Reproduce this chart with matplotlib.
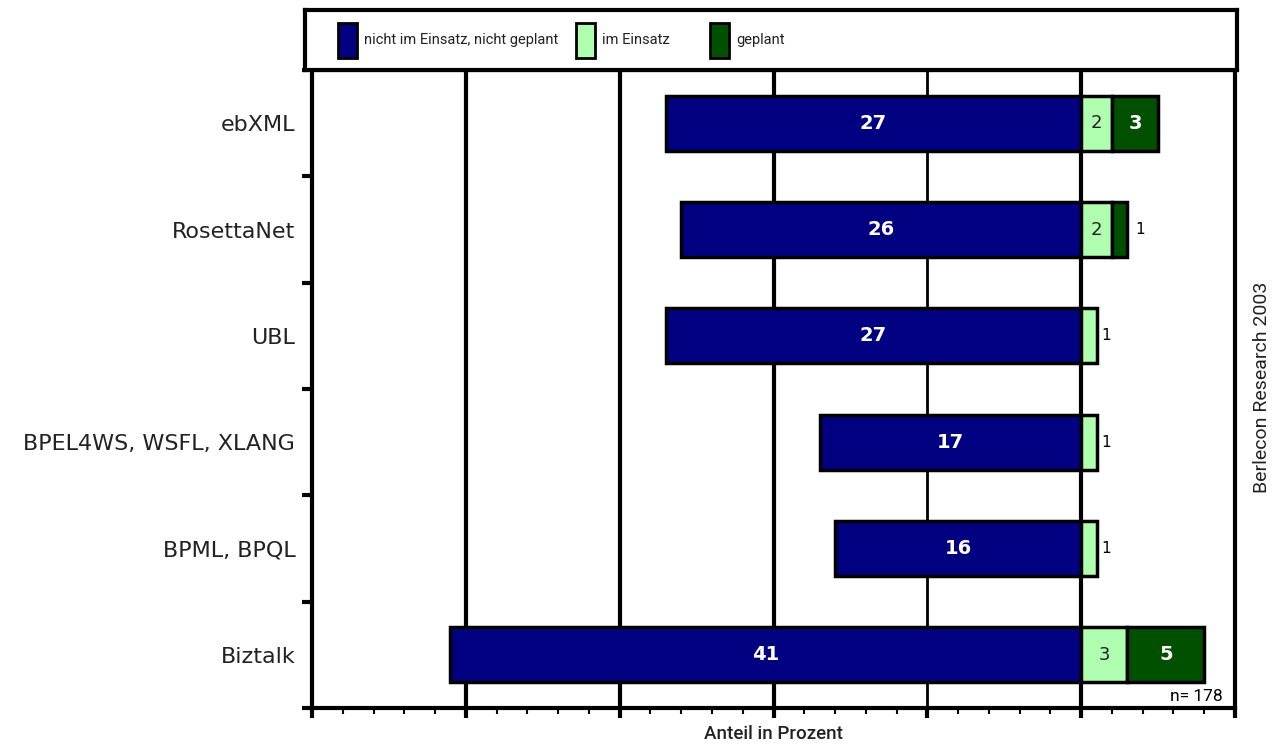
#!/usr/bin/env python3
import matplotlib.pyplot as plt
from matplotlib.patches import Rectangle

# Data (share in percent, n=178)
categories = ["ebXML", "RosettaNet", "UBL", "BPEL4WS, WSFL, XLANG", "BPML, BPQL", "Biztalk"]
not_used = [27, 26, 27, 17, 16, 41]   # nicht im Einsatz, nicht geplant
in_use = [2, 2, 1, 1, 1, 3]           # im Einsatz
planned = [3, 1, 0, 0, 0, 5]          # geplant

legend_labels = ["nicht im Einsatz, nicht geplant", "im Einsatz", "geplant"]
colors = ["#000080", "#b0ffb0", "#005000"]

narrow = ["Roboto", "DejaVu Sans"]

fig = plt.figure(figsize=(12.81, 7.47), dpi=100)
W, H = 1281, 747
ax = fig.add_axes([312 / W, 1 - 708 / H, (1235 - 312) / W, (708 - 70) / H])

# gridlines
for gx in [-40, -30, -20, -10, 0]:
    ax.axvline(gx, color="black", lw=2 if gx == -10 else 3, zorder=1)

ypos = list(range(len(categories)))
h = 0.52
ax.barh(ypos, not_used, left=[-v for v in not_used], height=h, color=colors[0],
        edgecolor="black", lw=2.5, zorder=3)
ax.barh(ypos, in_use, left=0, height=h, color=colors[1],
        edgecolor="black", lw=2.5, zorder=3)
for y, b, c in zip(ypos, in_use, planned):
    if c > 0:
        ax.barh(y, c, left=b, height=h, color=colors[2],
                edgecolor="black", lw=2.5, zorder=3)

# value labels
for y, a, b, c in zip(ypos, not_used, in_use, planned):
    ax.text(-a / 2, y, str(a), color="white", ha="center", va="center",
            fontsize=14, fontweight="bold", zorder=5)
    if c > 0:
        ax.text(b / 2, y, str(b), color="#222222", ha="center", va="center",
                fontsize=13, zorder=5)
        if c >= 2:
            ax.text(b + c / 2, y, str(c), color="white", ha="center", va="center",
                    fontsize=14, fontweight="bold", zorder=5)
        else:
            ax.text(b + c + 0.5, y, str(c), color="black", ha="left", va="center",
                    fontsize=11, zorder=5)
    else:
        ax.text(b + 0.3, y, str(b), color="black", ha="left", va="center",
                fontsize=11, zorder=5)

ax.set_xlim(-50, 10)
ax.set_ylim(len(categories) - 0.5, -0.5)

ax.set_xticks(range(-50, 11, 10))
ax.set_xticks(range(-50, 11, 2), minor=True)
ax.set_xticklabels([])
ax.tick_params(axis="x", which="major", length=7, width=3, direction="out")
ax.tick_params(axis="x", which="minor", length=4, width=1.5, direction="out")

ax.set_yticks(ypos)
ax.set_yticklabels(categories, fontsize=16, color="#222222")
ax.set_yticks([i - 0.5 for i in range(len(categories) + 1)], minor=True)
ax.tick_params(axis="y", which="major", length=0, pad=12)
ax.tick_params(axis="y", which="minor", length=7, width=3, direction="out")

for s in ax.spines.values():
    s.set_linewidth(3)

ax.set_xlabel("Anteil in Prozent", fontsize=13.5, family=narrow, labelpad=2,
              color="#222222", fontweight="medium")
ax.text(0.987, 0.006, "n= 178", transform=ax.transAxes, ha="right", va="bottom",
        fontsize=12.5, family=narrow)

fig.text(1262 / W, 1 - 387 / H, "Berlecon Research 2003", rotation=90,
         ha="center", va="center", fontsize=14, family=narrow, color="#222222")

# legend box
lax = fig.add_axes([305 / W, 1 - 70 / H, (1237 - 305) / W, 60 / H])
lax.set_xlim(0, 1)
lax.set_ylim(0, 1)
lax.set_xticks([])
lax.set_yticks([])
for s in lax.spines.values():
    s.set_linewidth(3)
leg_x = [(338 - 305) / 932, (576 - 305) / 932, (710 - 305) / 932]
for lx, lab, col in zip(leg_x, legend_labels, colors):
    lax.add_patch(Rectangle((lx, 0.2), 19 / 932, 0.58, facecolor=col,
                            edgecolor="black", lw=2))
    lax.text(lx + 26 / 932, 0.5, lab, ha="left", va="center", fontsize=10.5,
             family=narrow, color="#222222")

fig.savefig("out.png", dpi=100)
